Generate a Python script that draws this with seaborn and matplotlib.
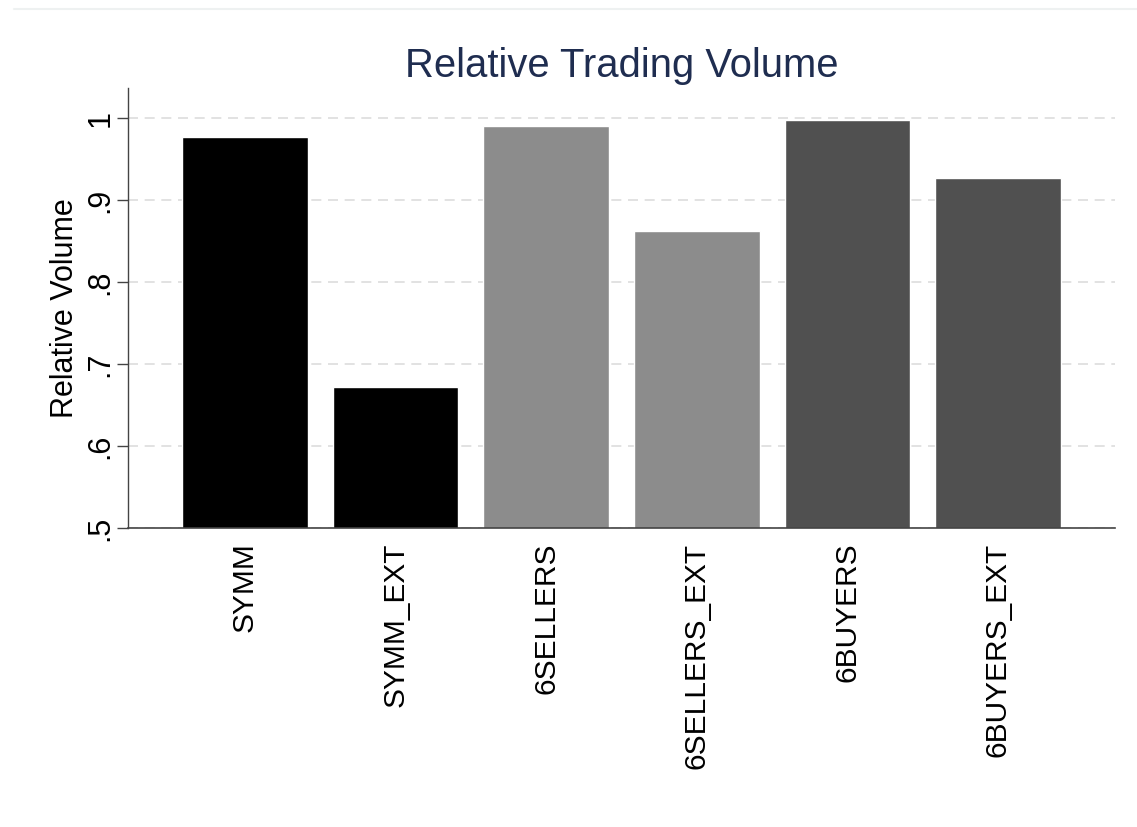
import matplotlib
matplotlib.use('Agg')
import matplotlib.pyplot as plt
import seaborn as sns
import pandas as pd
from matplotlib.lines import Line2D

# values
groups = ['SYMM', 'SYMM_EXT', '6SELLERS', '6SELLERS_EXT', '6BUYERS', '6BUYERS_EXT']
volume = [0.977, 0.672, 0.991, 0.863, 0.998, 0.927]
bar_colors = ['#000000', '#000000', '#8c8c8c', '#8c8c8c', '#505050', '#505050']
y_ticks = [0.5, 0.6, 0.7, 0.8, 0.9, 1.0]
y_tick_labels = ['.5', '.6', '.7', '.8', '.9', '1']

df = pd.DataFrame({'group': groups, 'volume': volume})

sns.set_style('white')
plt.rcParams['font.family'] = ['Liberation Sans', 'DejaVu Sans']
plt.rcParams['text.color'] = 'black'
plt.rcParams['axes.labelcolor'] = 'black'
plt.rcParams['xtick.color'] = 'black'
plt.rcParams['ytick.color'] = 'black'

fig = plt.figure(figsize=(11.37, 8.27), dpi=100)
ax = fig.add_axes([128 / 1137, 1 - 528 / 827, 987 / 1137, 440 / 827])

sns.barplot(data=df, x='group', y='volume', hue='group', palette=bar_colors,
            legend=False, width=0.835, saturation=1, ax=ax, zorder=2)

ax.set_ylim(0.5, 1.037)
ax.set_xlim(-0.777, 5.777)
ax.set_yticks(y_ticks)
ax.set_yticklabels(y_tick_labels, rotation=90, va='center', fontsize=22)
for t in ax.get_yticklabels():
    t.set_horizontalalignment('center')
ax.tick_params(axis='y', pad=12, length=8, width=1, color='#444444', left=True)
ax.tick_params(axis='x', bottom=False, labelsize=21.5, pad=7)
ax.set_xticks(range(len(groups)))
ax.set_xticklabels(groups, rotation=90)

ax.yaxis.grid(True, linestyle=(0, (6, 4)), color='#dddddd', linewidth=1.2, zorder=0)
ax.set_axisbelow(True)

for side in ['top', 'right']:
    ax.spines[side].set_visible(False)
ax.spines['left'].set_color('#444444')
ax.spines['bottom'].set_color('#444444')
ax.spines['left'].set_linewidth(1)
ax.spines['bottom'].set_linewidth(1.2)

ax.set_xlabel('')
ax.set_ylabel('Relative Volume', fontsize=22, labelpad=4)
ax.set_title('Relative Trading Volume', fontsize=28.8, color='#1f2d50', pad=8)

fig.add_artist(Line2D([0.012, 1.0], [1 - 9 / 827, 1 - 9 / 827], color='#eef1f1', linewidth=1.5))

fig.savefig('out.png', dpi=100, facecolor='white')
